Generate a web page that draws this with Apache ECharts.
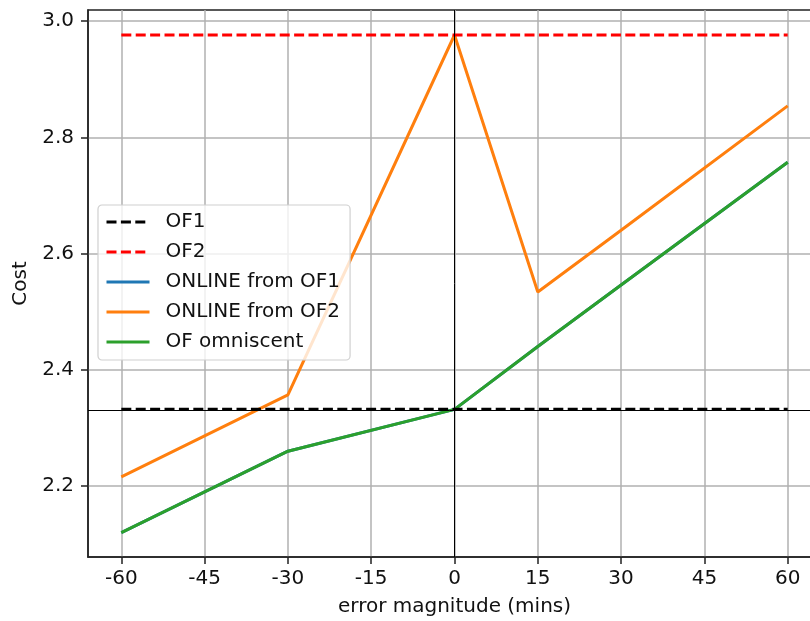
<!DOCTYPE html>
<html>
<head>
<meta charset="utf-8">
<script src="https://cdn.jsdelivr.net/npm/echarts@6/dist/echarts.min.js"></script>
<style>
html,body{margin:0;padding:0;background:#fff;}
#chart{width:810px;height:621px;}
</style>
</head>
<body>
<div id="chart"></div>
<script>
// ---- data ----
const xTicks = [-60, -45, -30, -15, 0, 15, 30, 45, 60];
const yTicks = [2.2, 2.4, 2.6, 2.8, 3.0];
const refX = [-60, 60];
const of1Cost = [2.332, 2.332];
const of2Cost = [2.976, 2.976];
const onlineX = [-60, -30, 0, 15, 30, 60];
const onlineFromOF1 = [2.120, 2.260, 2.332, 2.440, 2.546, 2.757];
const onlineFromOF2 = [2.216, 2.357, 2.976, 2.534, 2.640, 2.854];
const ofOmniscent = [2.120, 2.260, 2.332, 2.440, 2.546, 2.757];
const axhlineY = 2.332;
const axvlineX = 0;

const pair = (xs, ys) => xs.map((x, i) => [x, ys[i]]);
const FONT = 'DejaVu Sans';
const FS = 20;
const LW = 3;

const chart = echarts.init(document.getElementById('chart'), null, {renderer: 'canvas'});
chart.setOption({
  animation: false,
  backgroundColor: '#fff',
  textStyle: {fontFamily: FONT},
  grid: {
    left: 88, top: 10, width: 733, height: 547,
    containLabel: false, outerBoundsMode: 'none',
    show: true, borderColor: '#222', borderWidth: 1.5, backgroundColor: 'transparent'
  },
  legend: {
    left: 98, top: 205, orient: 'vertical',
    itemWidth: 43, itemHeight: 14, itemGap: 10,
    padding: [7, 10, 8, 7],
    backgroundColor: 'rgba(255,255,255,0.8)',
    borderColor: '#d0d0d0', borderWidth: 1.2, borderRadius: 4,
    itemStyle: {opacity: 0},
    lineStyle: {width: LW},
    textStyle: {fontFamily: FONT, fontSize: FS, color: '#111', lineHeight: 20, padding: [0, 0, 0, 11]},
    data: ['OF1', 'OF2', 'ONLINE from OF1', 'ONLINE from OF2', 'OF omniscent']
  },
  xAxis: {
    type: 'value', min: -66, max: 66,
    name: 'error magnitude (mins)', nameLocation: 'middle', nameGap: 40,
    nameTextStyle: {fontFamily: FONT, fontSize: FS, color: '#111'},
    axisLine: {show: true, onZero: false, lineStyle: {color: '#222', width: 1.5}},
    axisTick: {show: true, inside: false, length: 7, customValues: xTicks, lineStyle: {color: '#222', width: 1.5}},
    axisLabel: {customValues: xTicks, margin: 12, fontFamily: FONT, fontSize: FS, color: '#111',
      formatter: v => String(v)},
    splitLine: {show: true, lineStyle: {color: '#b0b0b0', width: 1.5}}
  },
  yAxis: {
    type: 'value', min: 2.078, max: 3.019,
    name: 'Cost', nameLocation: 'middle', nameGap: 57, nameRotate: 90,
    nameTextStyle: {fontFamily: FONT, fontSize: FS, color: '#111'},
    axisLine: {show: true, onZero: false, lineStyle: {color: '#222', width: 1.5}},
    axisTick: {show: true, inside: false, length: 7, customValues: yTicks, lineStyle: {color: '#222', width: 1.5}},
    axisLabel: {customValues: yTicks, margin: 14, fontFamily: FONT, fontSize: FS, color: '#111',
      formatter: v => v.toFixed(1)},
    splitLine: {show: true, lineStyle: {color: '#b0b0b0', width: 1.5}}
  },
  series: [
    {
      name: 'OF1', type: 'line', data: pair(refX, of1Cost), symbol: 'none', z: 4,
      color: '#000',
      lineStyle: {color: '#000', width: LW, type: [10, 4.4]},
      markLine: {
        silent: true, symbol: 'none', animation: false,
        label: {show: false},
        lineStyle: {color: '#000', width: 1, type: 'solid'},
        data: [{yAxis: axhlineY}, {xAxis: axvlineX}]
      }
    },
    {
      name: 'OF2', type: 'line', data: pair(refX, of2Cost), symbol: 'none', z: 4,
      color: '#ff0000',
      lineStyle: {color: '#ff0000', width: LW, type: [10, 4.4]}
    },
    {
      name: 'ONLINE from OF1', type: 'line', data: pair(onlineX, onlineFromOF1), symbol: 'none', z: 3,
      color: '#1f77b4',
      lineStyle: {color: '#1f77b4', width: LW}
    },
    {
      name: 'ONLINE from OF2', type: 'line', data: pair(onlineX, onlineFromOF2), symbol: 'none', z: 3,
      color: '#ff7f0e',
      lineStyle: {color: '#ff7f0e', width: LW}
    },
    {
      name: 'OF omniscent', type: 'line', data: pair(onlineX, ofOmniscent), symbol: 'none', z: 3,
      color: '#2ca02c',
      lineStyle: {color: '#2ca02c', width: LW}
    }
  ]
});
</script>
</body>
</html>
